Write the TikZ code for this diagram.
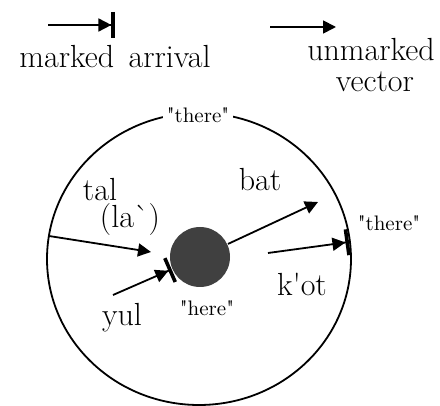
\documentclass[tikz,border=0pt]{standalone}
\usepackage{tikz}
\usetikzlibrary{arrows.meta,shapes.geometric}

\tikzset{
  lbl/.style={font=\fontsize{16}{19}\selectfont, inner sep=1pt},
  smalllbl/.style={font=\fontsize{10.5}{12}\selectfont, inner sep=1pt},
  vec/.style={-{Triangle[length=6.5pt,width=6.5pt]}},
  marked/.style={-{Triangle[length=6.5pt,width=6.5pt,sep=0pt]Bar[width=13pt,line width=1.8pt]}},
}
\newcommand{\qt}[1]{\textquotedbl#1\textquotedbl}

\begin{document}
\begin{tikzpicture}[x=0.5pt, y=-0.5pt, line width=0.9pt]
\useasboundingbox (0,0) rectangle (440,406);
% legend
\coordinate (ma0) at (48,25);
\coordinate (ma1) at (115,25);
\coordinate (uv0) at (270,27);
\coordinate (uv1) at (336,27);
\draw[marked] (ma0) -- (ma1);
\draw[vec] (uv0) -- (uv1);
\node[lbl] (markedtxt) at (115,57) {marked\hspace{0.45em}arrival};
\node[lbl] (unmarkedtxt) at (371,50) {unmarked};
\node[lbl] (vectortxt) at (375,82) {vector};
% the world and its centre
\node[draw, ellipse, minimum width=152pt, minimum height=146pt, inner sep=0pt, line width=0.9pt] (world) at (199,259) {};
\node[smalllbl, fill=white, inner sep=2pt] (theretop) at (198,115) {\qt{there}};
\node[circle, fill=black!75, minimum size=30pt, inner sep=0pt] (hub) at (200,257) {};
\node[smalllbl] (here) at (207,308) {\qt{here}};
\node[smalllbl] (thereright) at (389,223) {\qt{there}};
% verbs
\coordinate (tal0) at (49,236);
\coordinate (tal1) at (151,252);
\coordinate (yul0) at (113,295);
\coordinate (bat1) at (318,202);
\coordinate (kot0) at (268,253);
\coordinate (kot1) at (349,242);
\draw[vec] (tal0) -- (tal1);
\draw[marked] (yul0) -- (hub);
\draw[vec] (hub) -- (bat1);
\draw[marked] (kot0) -- (kot1);
\node[lbl] (tal) at (100,190) {tal};
\node[lbl] (la) at (130,220) {(la\textasciigrave)};
\node[lbl] (yul) at (122,318) {yul};
\node[lbl] (bat) at (260,180) {bat};
\node[lbl] (kot) at (302,284) {k\textquotesingle ot};
\end{tikzpicture}
\end{document}
